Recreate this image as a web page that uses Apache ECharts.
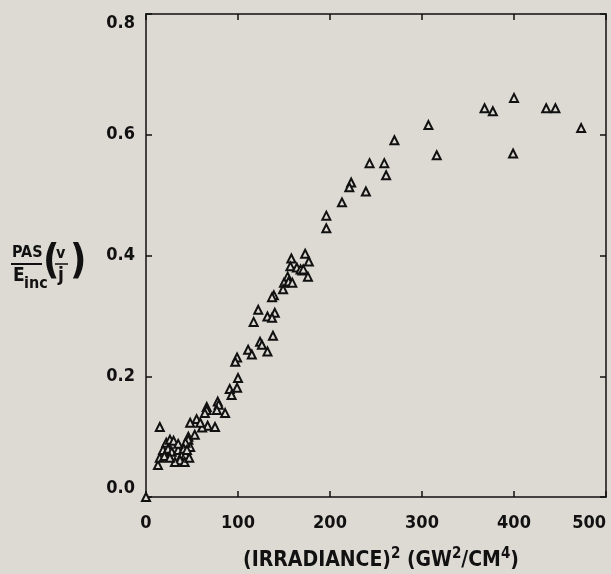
<!DOCTYPE html>
<html><head><meta charset="utf-8">
<script src="https://cdn.jsdelivr.net/npm/echarts@6/dist/echarts.min.js"></script>
<style>html,body{margin:0;padding:0;background:#dddad4;}#c{width:611px;height:574px;}</style>
</head><body><div id="c"></div>
<script>
const xTicks = [0, 100, 200, 300, 400, 500];
const yTicks = [0.0, 0.2, 0.4, 0.6, 0.8];
const irr2 = [400,368,377,435,445,473,307,316,399,270,243,259,261,239,223,221,213,196,196,
  173,177,170,176,158,157,164,168,171,154,
  150,155,159,149,139,137,122,140,132,137,117,138,124,126,111,132,115,99,
  97,100,91,99,93,66,66,78,79,77,86,64,55,48,67,75,61,59,53,46,46,15,
  13,15,18.5,22,26,30,24,28,35,39,43,37,31.5,42,47,20,26,48,43,41,35,44.5,0];
const pas = [0.661,0.644,0.639,0.644,0.644,0.611,0.616,0.566,0.569,0.591,0.553,0.553,0.533,0.506,0.521,0.513,0.488,0.466,0.445,
  0.403,0.390,0.375,0.365,0.395,0.382,0.380,0.377,0.377,0.365,
  0.355,0.357,0.355,0.344,0.334,0.331,0.310,0.305,0.299,0.297,0.290,0.267,0.257,0.252,0.244,0.241,0.236,0.231,
  0.224,0.197,0.179,0.181,0.169,0.149,0.144,0.158,0.153,0.144,0.139,0.139,0.129,0.123,0.118,0.116,0.115,0.123,0.103,0.100,0.095,0.116,
  0.053,0.065,0.078,0.090,0.095,0.093,0.080,0.075,0.078,0.070,0.070,0.061,0.058,0.058,0.065,0.068,0.065,0.083,0.090,0.080,0.088,0.078,0.0];
const pts = irr2.map((x, i) => [x, pas[i]]);
const FONT = '"Liberation Sans Narrow", "DejaVu Sans Condensed", "Liberation Sans", sans-serif';
const chart = echarts.init(document.getElementById('c'));
const axLine = {show: true, onZero: false, lineStyle: {color: '#111', width: 1.5}};
const tick = {show: true, inside: true, length: 6, lineStyle: {color: '#111', width: 1.5}};
chart.setOption({
  backgroundColor: '#dddad4',
  animation: false,
  grid: {left: 146, right: 5, top: 14, bottom: 77, outerBoundsMode: 'none', containLabel: false},
  xAxis: [{
    type: 'value', min: 0, max: 500, interval: 100, position: 'bottom',
    axisLine: axLine, axisTick: tick, splitLine: {show: false},
    axisLabel: {margin: 17, color: '#111', fontFamily: FONT, fontWeight: 'bold', fontSize: 18,
      alignMaxLabel: 'right',
      formatter: v => xTicks.includes(v) ? String(v) : ''},
    name: '{t|(IRRADIANCE)}{s|2}{t| (GW}{s|2}{t|/CM}{s|4}{t|)}',
    nameLocation: 'middle', nameGap: 50,
    nameTextStyle: {padding: [0, 0, 0, 10], rich: {
      t: {fontFamily: FONT, fontWeight: 'bold', fontSize: 21, color: '#111', verticalAlign: 'bottom'},
      s: {fontFamily: FONT, fontWeight: 'bold', fontSize: 15, color: '#111', verticalAlign: 'top', padding: [0,0,9,0]}
    }}
  }, {
    type: 'value', min: 0, max: 500, interval: 100, position: 'top',
    axisLine: axLine, axisTick: tick, axisLabel: {show: false}, splitLine: {show: false}
  }],
  yAxis: [{
    type: 'value', min: 0, max: 0.8, interval: 0.2, position: 'left',
    axisLine: axLine, axisTick: tick, splitLine: {show: false},
    axisLabel: {margin: 11, color: '#111', fontFamily: FONT, fontWeight: 'bold', fontSize: 18,
      verticalAlignMinLabel: 'bottom', verticalAlignMaxLabel: 'top',
      formatter: v => v.toFixed(1)}
  }, {
    type: 'value', min: 0, max: 0.8, interval: 0.2, position: 'right',
    axisLine: axLine, axisTick: tick, axisLabel: {show: false}, splitLine: {show: false}
  }],
  series: [{
    type: 'scatter', data: pts, symbol: 'triangle', symbolSize: [8, 8],
    itemStyle: {color: '#dddad4', borderColor: '#111', borderWidth: 2, opacity: 1}
  }],
  graphic: [
    {type: 'text', left: 12, top: 245, style: {text: 'PAS', fontFamily: FONT, fontWeight: 'bold', fontSize: 16, fill: '#111'}},
    {type: 'line', shape: {x1: 11, y1: 264, x2: 42, y2: 264}, style: {stroke: '#111', lineWidth: 2}},
    {type: 'text', left: 13, top: 267, style: {text: 'E', fontFamily: FONT, fontWeight: 'bold', fontSize: 19, fill: '#111'}},
    {type: 'text', left: 24, top: 276, style: {text: 'inc', fontFamily: FONT, fontWeight: 'bold', fontSize: 16, fill: '#111'}},
    {type: 'text', left: 43, top: 243, style: {text: '(', fontFamily: FONT, fontWeight: 'bold', fontSize: 40, fill: '#111'}},
    {type: 'text', left: 70, top: 243, style: {text: ')', fontFamily: FONT, fontWeight: 'bold', fontSize: 40, fill: '#111'}},
    {type: 'text', left: 56, top: 246, style: {text: 'v', fontFamily: FONT, fontWeight: 'bold', fontSize: 16, fill: '#111'}},
    {type: 'line', shape: {x1: 55, y1: 264, x2: 68, y2: 264}, style: {stroke: '#111', lineWidth: 1.5}},
    {type: 'text', left: 58, top: 267, style: {text: 'j', fontFamily: FONT, fontWeight: 'bold', fontSize: 19, fill: '#111'}}
  ]
});
</script></body></html>
